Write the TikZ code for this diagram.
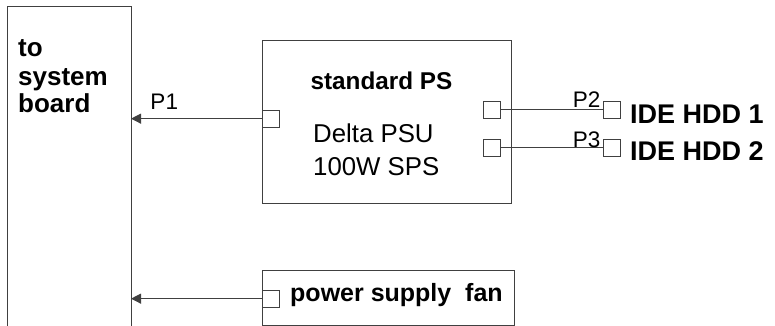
\documentclass[tikz,border=0pt]{standalone}
\usepackage{fontspec}
\setmainfont{Liberation Sans}
\usetikzlibrary{arrows.meta}
\tikzset{
  frame/.style={draw=black!75, line width=1pt, inner sep=0pt, fill=none},
  port/.style={draw=black!75, line width=0.8pt, minimum width=17pt, minimum height=16.5pt, inner sep=0pt, fill=white},
  wire/.style={draw=black!75, line width=1pt},
  arrowwire/.style={wire, -{Triangle[length=10pt,width=10pt]}},
  lbl/.style={inner sep=0pt, font=\fontsize{22.5}{26}\selectfont},
  bigtxt/.style={inner sep=0pt, font=\fontsize{25}{28}\selectfont\bfseries},
}
\begin{document}
\begin{tikzpicture}[x=1pt,y=-1pt]
\useasboundingbox (0,0) rectangle (775,326);
% system board (open at bottom)
\coordinate (sbtl) at (7,7);
\coordinate (sbbr) at (131,345);
\draw[frame] (7,345) -- (sbtl) -- (131,7) -- (sbbr);
\node[inner sep=0pt, font=\fontsize{26}{28}\selectfont\bfseries, anchor=base west, align=left] (sbtext) at (18,113) {to\\system\\board};
% power supply
\node[frame, draw, minimum width=249pt, minimum height=163pt, anchor=north west] (psu) at (262,40) {};
\node[inner sep=0pt, anchor=base, font=\fontsize{24.3}{28}\selectfont\bfseries] (psutitle) at (381.5,89.3) {standard PS};
\node[inner sep=0pt, anchor=base west, align=left, font=\fontsize{25.8}{32.7}\selectfont] (psudesc) at (313,175) {Delta PSU\\100W SPS};
% ports
\node[port, anchor=north west] (p1) at (262,110) {};
\node[port, anchor=north west] (p2) at (483,101) {};
\node[port, anchor=north west] (p3) at (483,139) {};
\node[port, anchor=north west] (h1) at (603,101) {};
\node[port, anchor=north west] (h2) at (603,139) {};
% HDD labels
\node[inner sep=0pt, anchor=base west, font=\fontsize{27}{30}\selectfont\bfseries] (hdd1) at (630,123.3) {IDE HDD 1};
\node[inner sep=0pt, anchor=base west, font=\fontsize{27}{30}\selectfont\bfseries] (hdd2) at (630,160.7) {IDE HDD 2};
% fan
\node[frame, draw, minimum width=252pt, minimum height=55pt, anchor=north west] (fan) at (262,270) {};
\node[port, anchor=north west] (fp) at (262,290) {};
\node[bigtxt, anchor=base west] (fantext) at (290,301.7) {power supply\ \ fan};
% connectors
\draw[arrowwire] (p1.west) -- (p1.west -| sbbr) node[lbl, pos=0.855, anchor=base west, yshift=9.2pt] (l1) {P1};
\draw[wire] (p2.east) -- (h1.west) node[lbl, pos=1, anchor=base east, xshift=-2pt, yshift=2.3pt] (l2) {P2};
\draw[wire] (p3.east) -- (h2.west) node[lbl, pos=1, anchor=base east, xshift=-2pt, yshift=0.6pt] (l3) {P3};
\draw[arrowwire] (fp.west) -- (fp.west -| sbbr);
\end{tikzpicture}
\end{document}
